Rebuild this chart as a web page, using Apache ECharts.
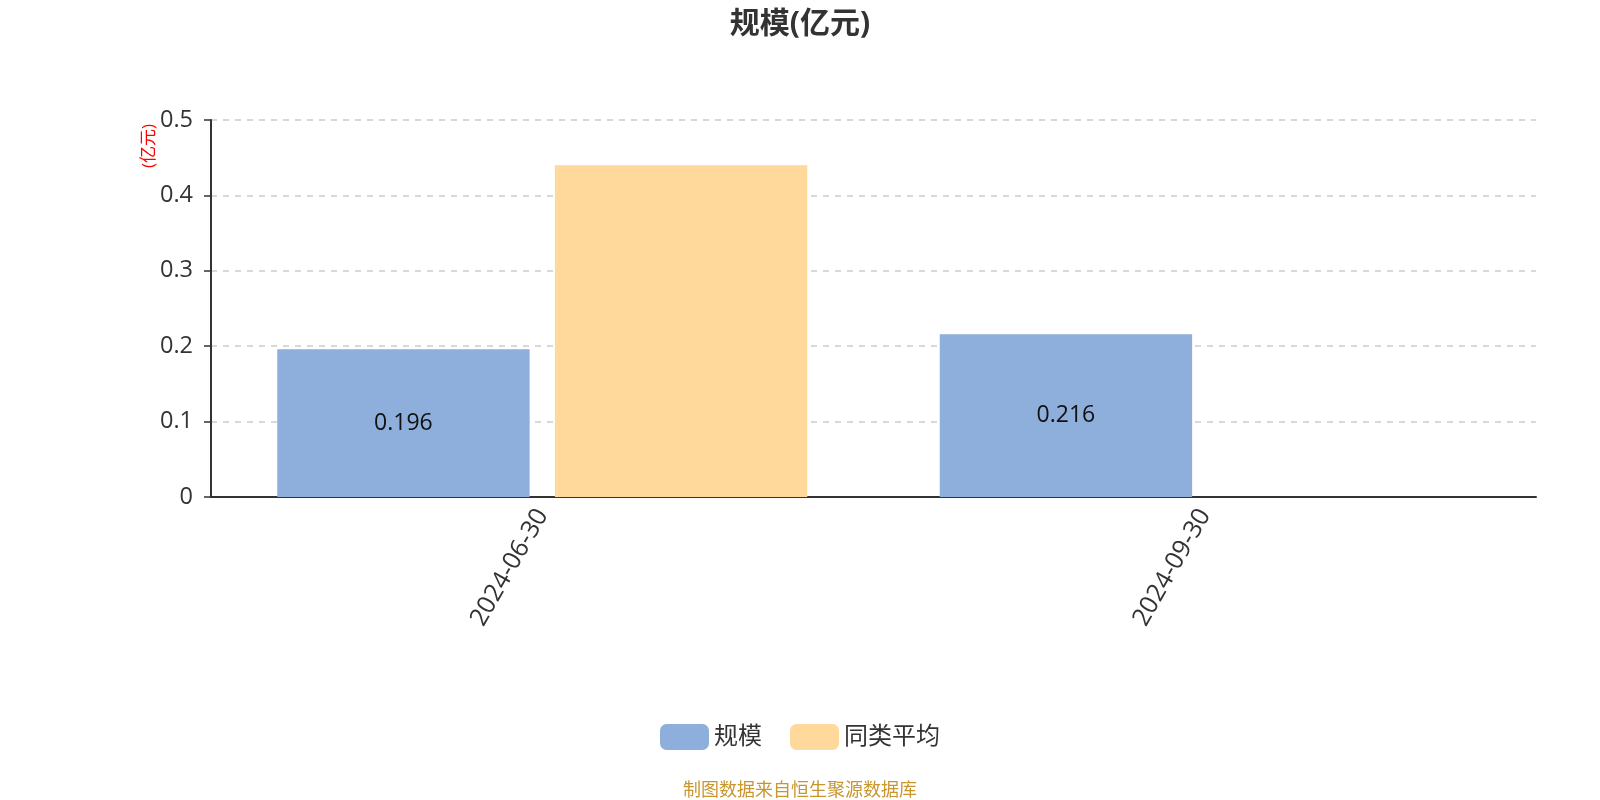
<!DOCTYPE html>
<html><head><meta charset="utf-8">
<script src="https://cdn.jsdelivr.net/npm/echarts@6/dist/echarts.min.js"></script>
<style>html,body{margin:0;padding:0;background:#fff}#c{width:1600px;height:800px}</style>
</head><body><div id="c"></div>
<script>
const categories = ['2024-06-30', '2024-09-30'];
const scaleValues = [0.196, 0.216];
const peerAvgValues = [0.44, null];
const yTicks = [0, 0.1, 0.2, 0.3, 0.4, 0.5];
const FONT = "'Open Sans','Noto Sans CJK SC',sans-serif";
const chart = echarts.init(document.getElementById('c'));
chart.setOption({
  animation: false,
  textStyle: {fontFamily: FONT},
  title: {text: '规模(亿元)', left: 'center', top: 4,
    textStyle: {fontSize: 30, fontWeight: 'bold', color: '#333', fontFamily: FONT}},
  grid: {left: 211, right: 64, top: 120, bottom: 303, containLabel: false},
  legend: {bottom: 45, left: 'center', itemWidth: 49, itemHeight: 26, itemGap: 28,
    textStyle: {fontSize: 24, color: '#333', fontFamily: FONT},
    data: ['规模', '同类平均']},
  graphic: [
    {type: 'text', left: 'center', top: 782,
      style: {text: '制图数据来自恒生聚源数据库', fill: '#c8962e', fontSize: 18, fontFamily: FONT}},
    {type: 'text', x: 149, y: 146, rotation: Math.PI / 2,
      style: {text: '(亿元)', fill: 'red', fontSize: 17, fontFamily: FONT, textAlign: 'center', textVerticalAlign: 'middle'}}
  ],
  xAxis: {type: 'category', data: categories,
    axisLine: {lineStyle: {color: '#333', width: 2}},
    axisTick: {lineStyle: {color: '#333', width: 1.5}, length: 7},
    axisLabel: {rotate: 60, fontSize: 25, color: '#333', margin: 14, fontFamily: FONT}},
  yAxis: {type: 'value', min: yTicks[0], max: yTicks[yTicks.length-1], interval: 0.1,
    axisLine: {show: true, lineStyle: {color: '#333', width: 2}},
    axisTick: {show: true, lineStyle: {color: '#333', width: 1.5}, length: 7},
    axisLabel: {fontSize: 23.5, color: '#333', margin: 18, fontFamily: FONT},
    splitLine: {lineStyle: {type: [6, 6], color: '#ccc', width: 1.5}}},
  series: [
    {name: '规模', type: 'bar', data: scaleValues, barGap: '10%', barCategoryGap: '20%',
      itemStyle: {color: '#8eaedb'},
      label: {show: true, position: 'inside', fontSize: 23, color: '#111', fontFamily: FONT}},
    {name: '同类平均', type: 'bar', data: peerAvgValues,
      itemStyle: {color: '#fed99b'}}
  ]
});
</script></body></html>
